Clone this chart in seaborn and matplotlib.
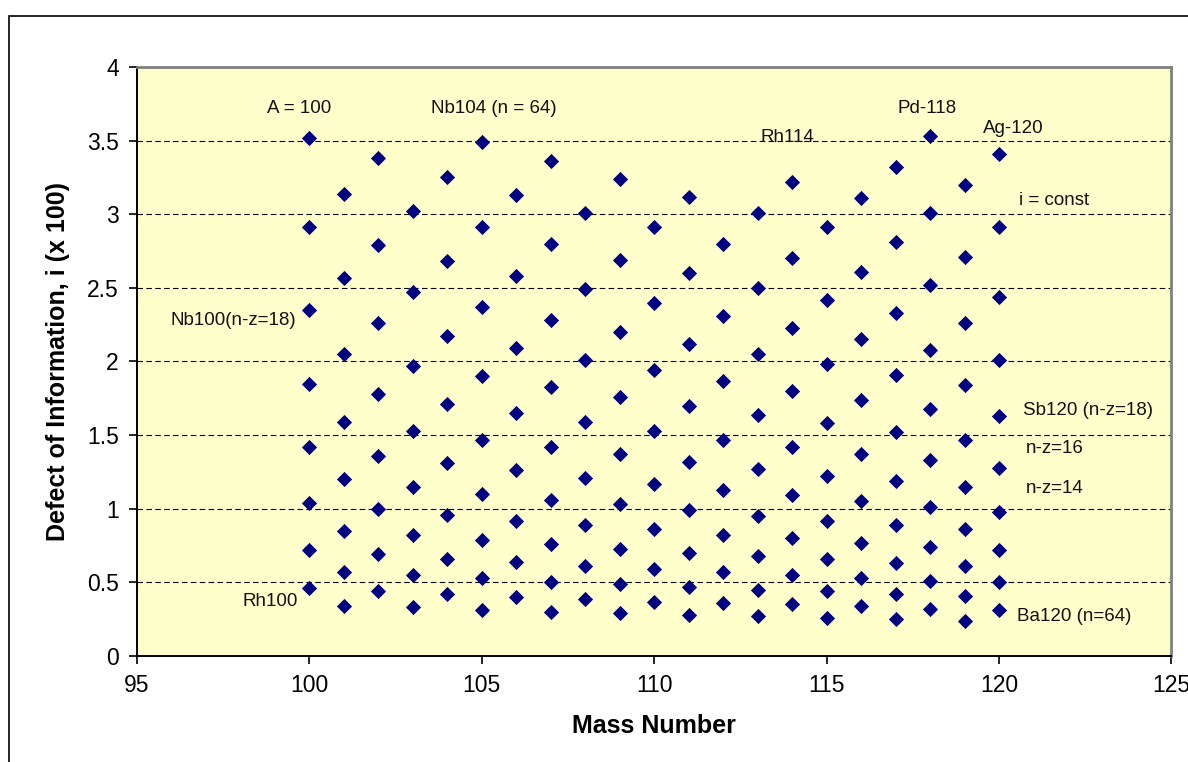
import pandas as pd
import seaborn as sns
import matplotlib.pyplot as plt
from matplotlib.patches import Rectangle

# defect of information (x 100), one list per mass number
i_100 = [3.52, 2.91, 2.35, 1.85, 1.42, 1.04, 0.72, 0.46]
i_101 = [3.14, 2.57, 2.05, 1.59, 1.20, 0.85, 0.57, 0.34]
i_102 = [3.38, 2.79, 2.26, 1.78, 1.36, 1.00, 0.69, 0.44]
i_103 = [3.02, 2.47, 1.97, 1.53, 1.15, 0.82, 0.55, 0.33]
i_104 = [3.25, 2.68, 2.17, 1.71, 1.31, 0.96, 0.66, 0.42]
i_105 = [3.49, 2.91, 2.37, 1.90, 1.47, 1.10, 0.79, 0.53, 0.31]
i_106 = [3.13, 2.58, 2.09, 1.65, 1.26, 0.92, 0.64, 0.40]
i_107 = [3.36, 2.80, 2.28, 1.83, 1.42, 1.06, 0.76, 0.50, 0.30]
i_108 = [3.01, 2.49, 2.01, 1.59, 1.21, 0.89, 0.61, 0.39]
i_109 = [3.24, 2.69, 2.20, 1.76, 1.37, 1.03, 0.73, 0.49, 0.29]
i_110 = [2.91, 2.40, 1.94, 1.53, 1.17, 0.86, 0.59, 0.37]
i_111 = [3.12, 2.60, 2.12, 1.70, 1.32, 0.99, 0.70, 0.47, 0.28]
i_112 = [2.80, 2.31, 1.87, 1.47, 1.13, 0.82, 0.57, 0.36]
i_113 = [3.01, 2.50, 2.05, 1.64, 1.27, 0.95, 0.68, 0.45, 0.27]
i_114 = [3.22, 2.70, 2.23, 1.80, 1.42, 1.09, 0.80, 0.55, 0.35]
i_115 = [2.91, 2.42, 1.98, 1.58, 1.22, 0.92, 0.66, 0.44, 0.26]
i_116 = [3.11, 2.61, 2.15, 1.74, 1.37, 1.05, 0.77, 0.53, 0.34]
i_117 = [3.32, 2.81, 2.33, 1.91, 1.52, 1.19, 0.89, 0.63, 0.42, 0.25]
i_118 = [3.53, 3.01, 2.52, 2.08, 1.68, 1.33, 1.01, 0.74, 0.51, 0.32]
i_119 = [3.20, 2.71, 2.26, 1.84, 1.47, 1.15, 0.86, 0.61, 0.41, 0.24]
i_120 = [3.41, 2.91, 2.44, 2.01, 1.63, 1.28, 0.98, 0.72, 0.50, 0.31]

columns = [i_100, i_101, i_102, i_103, i_104, i_105, i_106, i_107, i_108, i_109,
           i_110, i_111, i_112, i_113, i_114, i_115, i_116, i_117, i_118, i_119, i_120]
mass_numbers = list(range(100, 121))

# labels on the chart and where they sit (data coords)
note_text = ["A = 100", "Nb104 (n = 64)", "Rh114", "Pd-118", "Ag-120", "i = const",
             "Nb100(n-z=18)", "Sb120 (n-z=18)", "n-z=16", "n-z=14", "Rh100", "Ba120 (n=64)"]
note_x = [99.72, 105.35, 113.85, 117.9, 120.42, 121.6, 97.8, 122.58, 121.62, 121.62, 98.87, 122.18]
note_y = [3.72, 3.72, 3.52, 3.72, 3.58, 3.09, 2.28, 1.67, 1.41, 1.14, 0.37, 0.27]

rows = []
for a, vals in zip(mass_numbers, columns):
    for v in vals:
        rows.append((a, v))
df = pd.DataFrame(rows, columns=["mass", "defect"])

sns.set_style("white")
plt.rcParams["font.family"] = ["Liberation Sans", "DejaVu Sans"]
plt.rcParams["text.color"] = "black"
plt.rcParams["axes.labelcolor"] = "black"
plt.rcParams["xtick.color"] = "black"
plt.rcParams["ytick.color"] = "black"

fig = plt.figure(figsize=(11.88, 7.62), dpi=100)
ax = fig.add_axes([0.1151, 0.1391, 0.8710, 0.7730])
ax.set_facecolor("#FFFFCC")

sns.scatterplot(x="mass", y="defect", data=df, marker="D", s=60,
                color="#000080", linewidth=0, ax=ax, zorder=3)

ax.set_xlim(95, 125)
ax.set_ylim(0, 4)
ax.set_xticks(range(95, 126, 5))
ax.set_yticks([0, 0.5, 1, 1.5, 2, 2.5, 3, 3.5, 4])
ax.set_yticklabels(["0", "0.5", "1", "1.5", "2", "2.5", "3", "3.5", "4"])

ax.set_axisbelow(True)
ax.grid(axis="y", color="black", linestyle=(0, (5, 3)), linewidth=0.8)
ax.grid(axis="x", visible=False)

for side in ["left", "bottom"]:
    ax.spines[side].set_color("black")
    ax.spines[side].set_linewidth(1.4)
for side in ["top", "right"]:
    ax.spines[side].set_color("#808080")
    ax.spines[side].set_linewidth(2)

ax.tick_params(axis="both", direction="out", length=6, width=1.2, color="black",
               labelsize=16.5, pad=7, left=True, bottom=True)

ax.set_xlabel("Mass Number", fontsize=18, fontweight="bold", labelpad=12)
ax.set_ylabel("Defect of Information, i (x 100)", fontsize=18, fontweight="bold", labelpad=12)

for t, x, y in zip(note_text, note_x, note_y):
    ax.text(x, y, t, ha="center", va="center", fontsize=13.5, color="#111111",
            clip_on=False, zorder=4)

# chart-area frame, cut by the right and bottom image edges
fig.add_artist(Rectangle((0.0078, -0.05), 1.1, 1.0294, transform=fig.transFigure,
                         fill=False, edgecolor="black", linewidth=1.2))

fig.savefig("out.png", dpi=100)
